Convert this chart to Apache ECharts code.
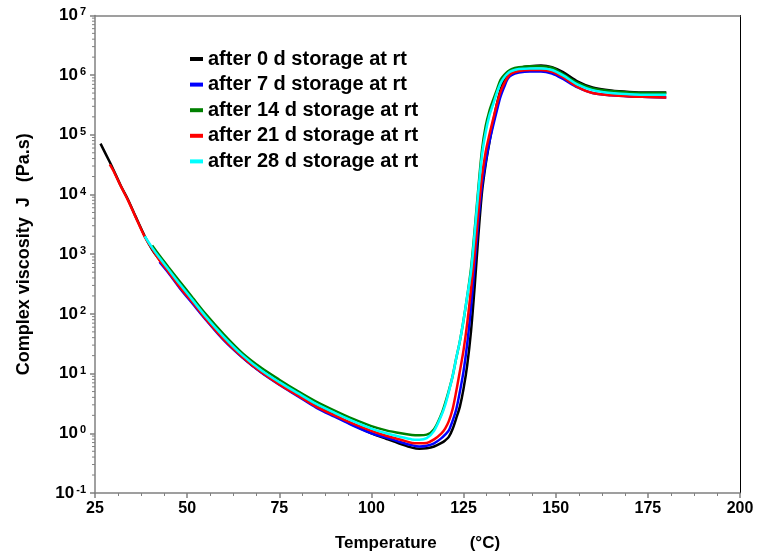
<!DOCTYPE html>
<html><head><meta charset="utf-8">
<script src="https://cdn.jsdelivr.net/npm/echarts@6/dist/echarts.min.js"></script>
<style>html,body{margin:0;padding:0;background:#fff}#c{width:770px;height:555px}</style>
</head><body><div id="c"></div>
<script>
// Temperature grid (°C)
const temperature = [26.5, 29, 30, 32, 34, 36, 38.5, 40.5, 42.5, 45, 48, 51.5, 55, 60, 65, 70, 75, 80, 85, 90, 95, 100, 104, 108, 111, 113, 115, 117, 119, 120, 121, 122, 123, 124, 125, 126, 127, 128, 129, 130, 131, 132, 133, 134, 135, 136, 137, 138, 140, 143, 146, 149, 152, 156, 160, 165, 170, 175, 180];

// Complex viscosity (Pa.s) per storage time
const visc0d = [7.1e4, 3.5e4, 2.6e4, 1.4e4, 8.1e3, 4.3e3, 2.0e3, 1.2e3, 810, 510, 295, 158, 85, 38, 19, 10.7, 6.8, 4.4, 2.9, 2.0, 1.38, 1.0, 0.81, 0.66, 0.575, 0.55, 0.56, 0.60, 0.69, 0.76, 0.87, 1.17, 1.78, 2.8, 5.6, 14, 50, 280, 2.0e3, 1.1e4, 3.2e4, 7.4e4, 1.6e5, 3.2e5, 5.6e5, 8.3e5, 1.07e6, 1.2e6, 1.32e6, 1.41e6, 1.45e6, 1.36e6, 1.12e6, 7.8e5, 6.2e5, 5.5e5, 5.2e5, 5.1e5, 5.1e5];
const visc7d = [null, null, null, null, null, null, null, null, 740, 480, 270, 148, 81, 36, 18.6, 10.5, 6.5, 4.2, 2.7, 1.9, 1.35, 1.0, 0.85, 0.71, 0.63, 0.60, 0.62, 0.68, 0.83, 0.95, 1.12, 1.6, 2.5, 5.0, 11, 32, 126, 630, 3.5e3, 1.4e4, 3.5e4, 7.6e4, 1.4e5, 2.5e5, 4.3e5, 6.3e5, 8.7e5, 1.0e6, 1.1e6, 1.15e6, 1.15e6, 1.06e6, 8.6e5, 6.2e5, 5.0e5, 4.6e5, 4.4e5, 4.3e5, 4.2e5];
const visc14d = [null, null, null, null, null, null, null, 1.4e3, 950, 600, 350, 186, 100, 45, 22, 12.6, 7.9, 5.1, 3.4, 2.4, 1.74, 1.32, 1.12, 1.0, 0.94, 0.93, 0.95, 1.17, 2.1, 3.2, 5.2, 8.9, 18, 35, 79, 200, 560, 2.5e3, 1.26e4, 5.6e4, 1.4e5, 2.5e5, 3.8e5, 5.6e5, 8.3e5, 1.0e6, 1.15e6, 1.26e6, 1.35e6, 1.41e6, 1.41e6, 1.33e6, 1.04e6, 7.4e5, 6.0e5, 5.4e5, 5.1e5, 5.0e5, 5.0e5];
const visc21d = [null, 3.2e4, 2.5e4, 1.38e4, 7.9e3, 4.2e3, 1.95e3, 1.23e3, 790, 500, 280, 155, 83, 37, 19, 10.7, 6.6, 4.3, 2.8, 2.0, 1.45, 1.1, 0.91, 0.78, 0.69, 0.68, 0.69, 0.79, 1.0, 1.2, 1.6, 2.5, 5.0, 11, 25, 71, 250, 1.0e3, 5.0e3, 2.0e4, 5.2e4, 1.0e5, 1.8e5, 3.2e5, 5.2e5, 7.2e5, 9.3e5, 1.07e6, 1.17e6, 1.22e6, 1.22e6, 1.14e6, 9.2e5, 6.3e5, 5.0e5, 4.6e5, 4.4e5, 4.3e5, 4.2e5];
const visc28d = [null, null, null, null, null, null, 2.0e3, 1.29e3, 870, 550, 316, 170, 91, 41, 20.4, 11.5, 7.2, 4.7, 3.1, 2.2, 1.6, 1.2, 1.0, 0.87, 0.79, 0.78, 0.83, 1.1, 2.0, 2.95, 5.0, 8.9, 18, 35, 79, 200, 500, 2.2e3, 1.1e4, 4.5e4, 1.1e5, 2.1e5, 3.2e5, 5.0e5, 7.2e5, 9.1e5, 1.07e6, 1.17e6, 1.26e6, 1.29e6, 1.29e6, 1.22e6, 9.9e5, 6.9e5, 5.6e5, 5.0e5, 4.8e5, 4.7e5, 4.7e5];

const seriesNames = ['after 0 d storage at rt', 'after 7 d storage at rt', 'after 14 d storage at rt', 'after 21 d storage at rt', 'after 28 d storage at rt'];
const seriesColors = ['#000000', '#0000ff', '#008000', '#ff0000', '#00ffff'];
const seriesValues = [visc0d, visc7d, visc14d, visc21d, visc28d];

const xMin = 25, xMax = 200, xStep = 25;
const yMin = 0.1, yMax = 1e7;

// log minor tick positions (2..9 within each decade)
const yMinorTicks = [];
for (let k = -1; k < 7; k++) for (let m = 2; m <= 9; m++) yMinorTicks.push(m * Math.pow(10, k));

const chart = echarts.init(document.getElementById('c'), null, {renderer: 'canvas'});
const FONT = 'Liberation Sans, Arial, sans-serif';
const AXIS_GRAY = '#808080';

const lineSeries = seriesValues.map((vals, s) => ({
  name: seriesNames[s],
  type: 'line',
  xAxisIndex: 0, yAxisIndex: 0,
  data: temperature.map((t, i) => [t, vals[i]]).filter(d => d[1] !== null),
  showSymbol: false,
  smooth: 0.3,
  color: seriesColors[s],
  lineStyle: {width: 2.5, color: seriesColors[s]},
  z: 3 + s
}));

const option = {
  animation: false,
  backgroundColor: '#ffffff',
  textStyle: {fontFamily: FONT},
  grid: {left: 95, right: 30, top: 15.4, bottom: 62, containLabel: false, outerBoundsMode: 'none'},
  legend: {
    data: seriesNames,
    orient: 'vertical',
    left: 190, top: 49,
    padding: 0,
    itemWidth: 13, itemHeight: 4, itemGap: 5.6,
    icon: 'rect',
    textStyle: {fontFamily: FONT, fontSize: 20, fontWeight: 'bold', color: '#000', lineHeight: 20},
    selectedMode: false
  },
  xAxis: [{
    type: 'value', min: xMin, max: xMax, interval: xStep,
    name: 'Temperature       (°C)', nameLocation: 'middle', nameGap: 42,
    nameTextStyle: {fontFamily: FONT, fontSize: 17, fontWeight: 'bold', color: '#000'},
    axisLine: {show: true, lineStyle: {color: AXIS_GRAY, width: 1.5}},
    axisTick: {show: true, length: 5, lineStyle: {color: AXIS_GRAY, width: 1.5}},
    minorTick: {show: true, splitNumber: 4, length: 3, lineStyle: {color: AXIS_GRAY, width: 1}},
    axisLabel: {fontFamily: FONT, fontSize: 16, fontWeight: 'bold', color: '#000', margin: 8},
    splitLine: {show: false}
  }, {
    type: 'value', min: xMin, max: xMax, position: 'top',
    axisLine: {show: true, lineStyle: {color: AXIS_GRAY, width: 1.5}},
    axisTick: {show: false}, axisLabel: {show: false}, splitLine: {show: false}
  }],
  yAxis: [{
    type: 'log', logBase: 10, min: yMin, max: yMax, splitNumber: 8,
    name: 'Complex viscosity  J   (Pa.s)', nameLocation: 'middle', nameGap: 62,
    nameTextStyle: {fontFamily: FONT, fontSize: 18, fontWeight: 'bold', color: '#000'},
    axisLine: {show: true, lineStyle: {color: AXIS_GRAY, width: 1.5}},
    axisTick: {show: true, length: 5, lineStyle: {color: AXIS_GRAY, width: 1.5}},
    axisLabel: {
      margin: 9,
      formatter: v => '{b|10}{s|' + Math.round(Math.log10(v)) + '}',
      rich: {
        b: {fontFamily: FONT, fontSize: 17, fontWeight: 'bold', color: '#000', lineHeight: 17},
        s: {fontFamily: FONT, fontSize: 11, fontWeight: 'bold', color: '#000', lineHeight: 11, verticalAlign: 'top', padding: [0, 0, 0, 2]}
      }
    },
    splitLine: {show: false}
  }, {
    type: 'value', min: 0, max: 1, position: 'right',
    axisLine: {show: true, lineStyle: {color: '#000', width: 1}},
    axisTick: {show: false}, axisLabel: {show: false}, splitLine: {show: false}
  }],
  series: [{
    type: 'custom',
    name: 'yMinorTicks',
    xAxisIndex: 0, yAxisIndex: 0,
    silent: true,
    clip: false,
    data: yMinorTicks.map(v => [xMin, v]),
    renderItem: (params, api) => {
      const p = api.coord([api.value(0), api.value(1)]);
      return {type: 'line', shape: {x1: p[0] - 3, y1: p[1], x2: p[0], y2: p[1]}, style: {stroke: AXIS_GRAY, lineWidth: 1}};
    },
    z: 1
  }].concat(lineSeries)
};
chart.setOption(option);
</script>
</body></html>
